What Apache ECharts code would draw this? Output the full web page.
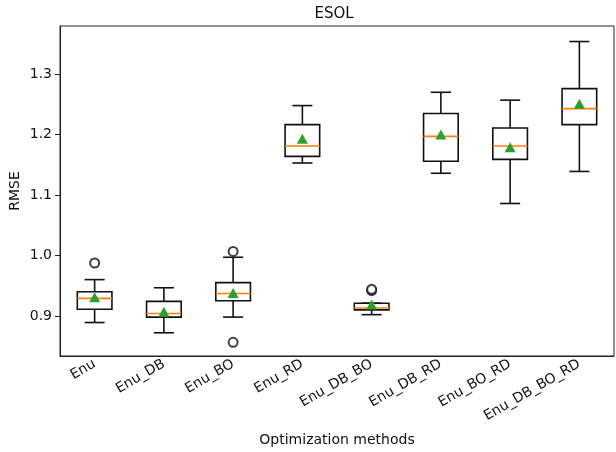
<!DOCTYPE html>
<html>
<head>
<meta charset="utf-8">
<script src="https://cdn.jsdelivr.net/npm/echarts@6/dist/echarts.min.js"></script>
<style>
  html, body { margin: 0; padding: 0; background: #fff; }
  #chart { width: 616px; height: 452px; }
</style>
</head>
<body>
<div id="chart"></div>
<script>
// box statistics (RMSE)
const categories = ['Enu', 'Enu_DB', 'Enu_BO', 'Enu_RD', 'Enu_DB_BO', 'Enu_DB_RD', 'Enu_BO_RD', 'Enu_DB_BO_RD']
const whiskerLow = [0.889, 0.872, 0.898, 1.153, 0.902, 1.136, 1.086, 1.139]
const q1 = [0.911, 0.898, 0.925, 1.164, 0.910, 1.156, 1.159, 1.2165]
const medians = [0.929, 0.904, 0.937, 1.181, 0.913, 1.197, 1.181, 1.243]
const q3 = [0.940, 0.924, 0.955, 1.2165, 0.921, 1.235, 1.211, 1.276]
const whiskerHigh = [0.960, 0.9465, 0.997, 1.248, 0.921, 1.270, 1.257, 1.354]
const means = [0.931, 0.907, 0.938, 1.193, 0.919, 1.200, 1.179, 1.251]
// [category index, value]
const outliers = [[0, 0.9875], [2, 1.0067], [2, 0.8563], [4, 0.942], [4, 0.944]]
const yTicks = [0.9, 1.0, 1.1, 1.2, 1.3]

const font = 'DejaVu Sans'
const chart = echarts.init(document.getElementById('chart'))

const boxData = categories.map((c, i) => [i, whiskerLow[i], q1[i], medians[i], q3[i], whiskerHigh[i]])

function renderBox(params, api) {
  const x = api.value(0)
  const pLow = api.coord([x, api.value(1)])
  const pQ1 = api.coord([x, api.value(2)])
  const pMed = api.coord([x, api.value(3)])
  const pQ3 = api.coord([x, api.value(4)])
  const pHigh = api.coord([x, api.value(5)])
  const band = api.size([1, 0])[0]
  const halfBox = band * 0.25
  const halfCap = band * 0.145
  const cx = pMed[0]
  const black = { stroke: '#111', lineWidth: 1.6, fill: null }
  return {
    type: 'group',
    children: [
      { type: 'line', shape: { x1: cx, y1: pLow[1], x2: cx, y2: pQ1[1] }, style: black },
      { type: 'line', shape: { x1: cx, y1: pQ3[1], x2: cx, y2: pHigh[1] }, style: black },
      { type: 'line', shape: { x1: cx - halfCap, y1: pLow[1], x2: cx + halfCap, y2: pLow[1] }, style: black },
      { type: 'line', shape: { x1: cx - halfCap, y1: pHigh[1], x2: cx + halfCap, y2: pHigh[1] }, style: black },
      {
        type: 'rect',
        shape: { x: cx - halfBox, y: pQ3[1], width: halfBox * 2, height: pQ1[1] - pQ3[1] },
        style: { fill: '#fff', stroke: '#111', lineWidth: 1.6 }
      },
      {
        type: 'line',
        shape: { x1: cx - halfBox, y1: pMed[1], x2: cx + halfBox, y2: pMed[1] },
        style: { stroke: '#ff7f0e', lineWidth: 1.6 }
      }
    ]
  }
}

const option = {
  animation: false,
  backgroundColor: '#fff',
  title: {
    text: 'ESOL',
    left: 329,
    top: 2,
    textAlign: 'center',
    textStyle: { fontFamily: font, fontSize: 15, fontWeight: 'normal', color: '#111' }
  },
  grid: {
    left: 60,
    right: 2,
    top: 26,
    bottom: 96,
    outerBoundsMode: 'none',
    containLabel: false,
    show: true,
    borderColor: '#222',
    borderWidth: 1
  },
  xAxis: {
    type: 'category',
    data: categories,
    name: 'Optimization methods',
    nameLocation: 'middle',
    nameGap: 77,
    nameMoveOverlap: false,
    nameTextStyle: { fontFamily: font, fontSize: 14, color: '#111' },
    axisLine: { lineStyle: { color: '#222', width: 1 } },
    axisTick: { alignWithLabel: true, length: 5, lineStyle: { color: '#222' } },
    axisLabel: { rotate: 30, fontFamily: font, fontSize: 14, color: '#111', margin: 7, interval: 0 },
    splitLine: { show: false }
  },
  yAxis: {
    type: 'value',
    min: 0.8336,
    max: 1.3797,
    name: 'RMSE',
    nameLocation: 'middle',
    nameGap: 38,
    nameMoveOverlap: false,
    nameTextStyle: { fontFamily: font, fontSize: 14, color: '#111' },
    axisLine: { show: true, lineStyle: { color: '#222', width: 1 } },
    axisTick: { show: true, length: 5, customValues: yTicks, lineStyle: { color: '#222' } },
    axisLabel: {
      fontFamily: font,
      fontSize: 14,
      color: '#111',
      margin: 8,
      customValues: yTicks,
      formatter: v => v.toFixed(1)
    },
    splitLine: { show: false }
  },
  series: [
    {
      type: 'custom',
      renderItem: renderBox,
      encode: { x: 0, y: [1, 2, 3, 4, 5] },
      data: boxData,
      z: 2
    },
    {
      type: 'scatter',
      data: outliers,
      symbol: 'emptyCircle',
      symbolSize: 9,
      itemStyle: { color: '#111', borderColor: '#111', borderWidth: 1.6 },
      z: 3
    },
    {
      type: 'scatter',
      data: means.map((m, i) => [i, m]),
      symbol: 'triangle',
      symbolSize: [11, 10],
      itemStyle: { color: '#2ca02c', opacity: 1 },
      z: 4
    }
  ]
}

chart.setOption(option)
</script>
</body>
</html>
